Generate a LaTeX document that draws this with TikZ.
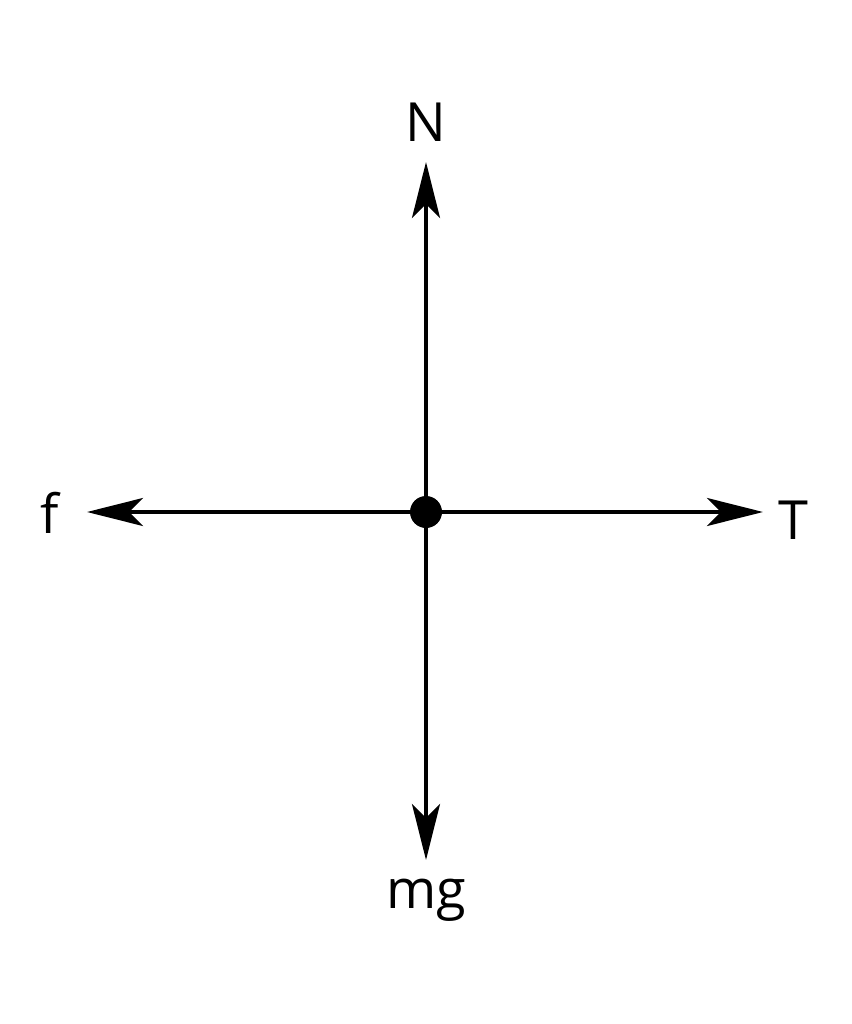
\documentclass[tikz,border=0pt]{standalone}
\usepackage{fontspec}
\setmainfont{Open Sans}
\usetikzlibrary{arrows.meta}
\begin{document}
\begin{tikzpicture}[x=1pt,y=-1pt,
  force/.style={line width=4pt,-{Stealth[length=56pt,width=28pt,inset=14pt]}},
  lbl/.style={font=\fontsize{54}{60}\selectfont,anchor=base,inner sep=0pt}]
\useasboundingbox[fill=white] (0,0) rectangle (851,1024);
\coordinate (O) at (426,512);
\coordinate (up) at (426,162);
\coordinate (down) at (426,860);
\coordinate (left) at (87,512);
\coordinate (right) at (763,512);
\draw[force] (O) -- (up);
\draw[force] (O) -- (down);
\draw[force] (O) -- (left);
\draw[force] (O) -- (right);
\fill (O) circle[radius=16pt];
\node[lbl] (N) at (426,142) {N};
\node[lbl] (T) at (793,539) {T};
\node[lbl] (f) at (50,533) {f};
\node[lbl] (mg) at (426,908) {mg};
\end{tikzpicture}
\end{document}
